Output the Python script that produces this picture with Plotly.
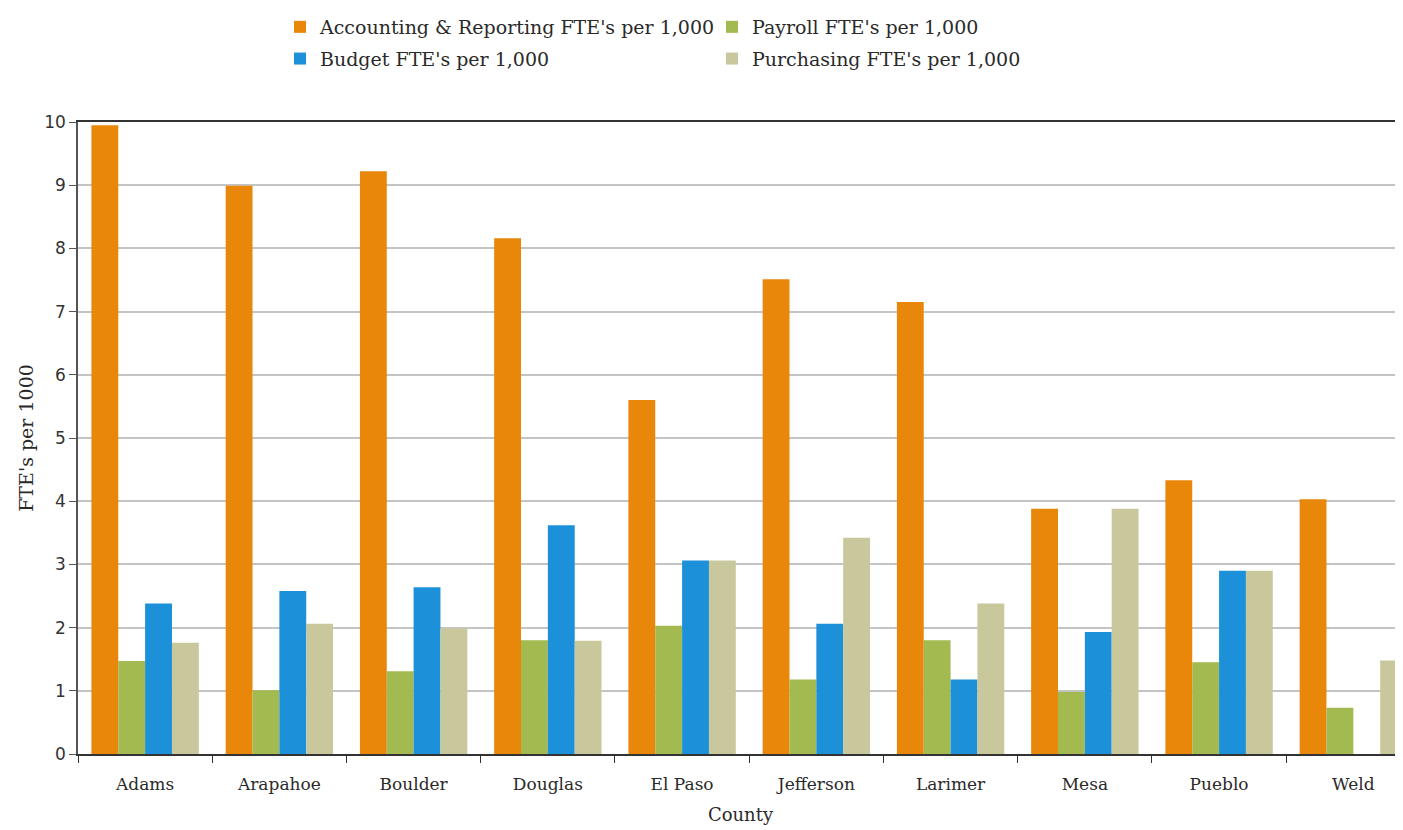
import plotly.graph_objects as go

counties = ["Adams", "Arapahoe", "Boulder", "Douglas", "El Paso", "Jefferson",
            "Larimer", "Mesa", "Pueblo", "Weld"]
accounting = [9.95, 8.99, 9.22, 8.16, 5.60, 7.51, 7.15, 3.88, 4.33, 4.03]
payroll = [1.47, 1.01, 1.31, 1.80, 2.03, 1.18, 1.80, 0.98, 1.45, 0.73]
budget = [2.38, 2.58, 2.64, 3.62, 3.06, 2.06, 1.18, 1.93, 2.90, 0.0]
purchasing = [1.76, 2.06, 1.99, 1.79, 3.06, 3.42, 2.38, 3.88, 2.90, 1.48]

series = [
    ("Accounting & Reporting FTE's per 1,000", accounting, "#E8870A", "legend"),
    ("Payroll FTE's per 1,000", payroll, "#A2BA4F", "legend2"),
    ("Budget FTE's per 1,000", budget, "#1C90D8", "legend"),
    ("Purchasing FTE's per 1,000", purchasing, "#C9C89C", "legend2"),
]

fig = go.Figure()
for i, (name, vals, color, leg) in enumerate(series):
    fig.add_trace(go.Bar(
        x=counties, y=vals, name=name,
        marker=dict(color=color, line=dict(width=0)),
        legend=leg, legendgroup=f"g{i}",
    ))

serif = "DejaVu Serif"
txt = "#2a2a2a"
leg_font = dict(family=serif, size=19, color=txt)
W, H = 1395, 822
L, T, B, R = 70, 114, 76, 0
plot_w = W - L - R
fig.update_layout(
    width=W, height=H,
    margin=dict(l=L, r=R, t=T, b=B),
    paper_bgcolor="white", plot_bgcolor="white",
    barmode="group", bargap=0.2, bargroupgap=0,
    legend=dict(x=(272 - L) / plot_w, xref="paper", y=1, yref="container",
                xanchor="left", yanchor="top",
                font=leg_font, tracegroupgap=4, bgcolor="rgba(0,0,0,0)"),
    legend2=dict(x=(704 - L) / plot_w, xref="paper", y=1, yref="container",
                 xanchor="left", yanchor="top",
                 font=leg_font, tracegroupgap=4, bgcolor="rgba(0,0,0,0)"),
    xaxis=dict(
        range=[-0.5, 9.37], automargin=False,
        showline=True, linecolor="#333", linewidth=1.5, mirror=True,
        ticks="outside", tickson="boundaries", ticklen=7, tickcolor="#333",
        ticklabelstandoff=14,
        tickfont=dict(family=serif, size=17, color=txt),
        title=dict(text="County", font=dict(family=serif, size=18, color=txt), standoff=15),
        showgrid=False,
    ),
    yaxis=dict(
        range=[0, 10], dtick=1, automargin=False,
        showline=True, linecolor="#555", linewidth=1.5,
        ticks="outside", ticklen=7, tickcolor="#555",
        tickfont=dict(family="DejaVu Sans", size=17, color="#333"),
        showgrid=True, gridcolor="#C4C4C4", gridwidth=1.5,
        zeroline=False,
        title=dict(text="FTE's per 1000", font=dict(family=serif, size=19, color=txt), standoff=6),
    ),
)

fig.write_html("out.html")
